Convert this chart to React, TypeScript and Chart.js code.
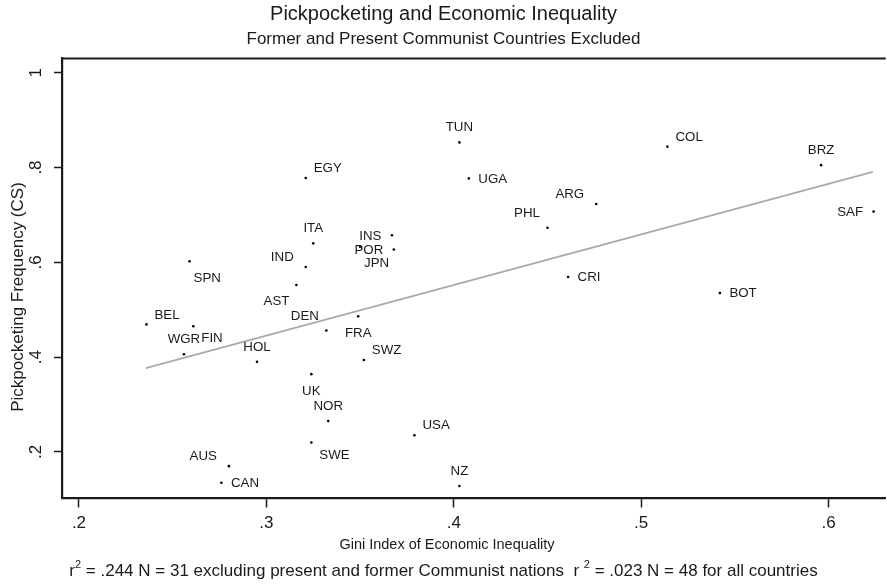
import { useEffect, useRef } from 'react';
import { Chart, registerables } from 'chart.js';

Chart.register(...registerables);

// Country codes, Gini index and pickpocketing frequency (former and present
// Communist countries left out).
const countries = [
  'EGY', 'ITA', 'SPN', 'IND', 'AST', 'BEL', 'FIN', 'WGR', 'HOL', 'DEN', 'FRA',
  'SWZ', 'UK', 'NOR', 'SWE', 'USA', 'NZ', 'AUS', 'CAN', 'TUN', 'UGA', 'ARG',
  'PHL', 'INS', 'POR', 'JPN', 'COL', 'BRZ', 'SAF', 'CRI', 'BOT',
];
const gini = [
  0.321, 0.325, 0.259, 0.321, 0.316, 0.236, 0.261, 0.256, 0.295, 0.332, 0.349,
  0.352, 0.324, 0.333, 0.324, 0.379, 0.403, 0.280, 0.276, 0.403, 0.408, 0.476,
  0.450, 0.367, 0.368, 0.350, 0.514, 0.596, 0.624, 0.461, 0.542,
];
const pickpocketing = [
  0.778, 0.640, 0.602, 0.590, 0.552, 0.469, 0.465, 0.406, 0.390, 0.456, 0.486,
  0.394, 0.364, 0.265, 0.220, 0.235, 0.128, 0.170, 0.135, 0.853, 0.777, 0.723,
  0.673, 0.657, 0.627, 0.633, 0.844, 0.805, 0.707, 0.569, 0.535,
];
// Marker-label clock position for each country.
const labelClock = [
  2, 12, 5, 10, 7, 2, 4, 12, 12, 11, 6,
  2, 6, 12, 4, 2, 12, 10, 3, 12, 3, 10,
  11, 9, 9, 5, 2, 12, 9, 3, 3,
];

// Fitted regression line end points.
const fitGini = [0.2357, 0.6236];
const fitPickpocketing = [0.3766, 0.7907];

const xTicks = [0.2, 0.3, 0.4, 0.5, 0.6];
const yTicks = [0.2, 0.4, 0.6, 0.8, 1];

const titleText = 'Pickpocketing and Economic Inequality';
const subtitleText = 'Former and Present Communist Countries Excluded';
const xTitle = 'Gini Index of Economic Inequality';
const yTitle = 'Pickpocketing Frequency (CS)';
const notePre = 'r';
const noteMid = ' = .244 N = 31 excluding present and former Communist nations  r ';
const notePost = ' = .023 N = 48 for all countries';

const FONT = '"Liberation Sans", Arial, Helvetica, sans-serif';
const INK = '#1a1a1a';

const CLOCK: Record<number, [CanvasTextAlign, number, number]> = {
  12: ['center', 0, -15],
  2: ['left', 8, -9.5],
  3: ['left', 9.5, 0.5],
  4: ['left', 8, 12.5],
  5: ['left', 4, 16.5],
  6: ['center', 0, 17],
  7: ['right', -7, 16],
  9: ['right', -10.5, 1],
  10: ['right', -12, -10],
  11: ['right', -7.5, -14],
};

const fmtTick = (v: number) => (v >= 1 ? String(v) : v.toFixed(1).replace(/^0/, ''));

const decorations = {
  id: 'decorations',
  afterDatasetsDraw(chart: any) {
    const { ctx, chartArea } = chart;
    ctx.save();
    // top frame line
    ctx.strokeStyle = INK;
    ctx.lineWidth = 2.2;
    ctx.beginPath();
    ctx.moveTo(chartArea.left - 1, chartArea.top);
    ctx.lineTo(chartArea.right, chartArea.top);
    ctx.stroke();

    // country labels
    ctx.font = `13.3px ${FONT}`;
    ctx.fillStyle = INK;
    ctx.textBaseline = 'middle';
    const meta = chart.getDatasetMeta(0);
    meta.data.forEach((pt: any, i: number) => {
      const [align, dx, dy] = CLOCK[labelClock[i]];
      ctx.textAlign = align;
      ctx.fillText(countries[i], pt.x + dx, pt.y + dy);
    });
    ctx.restore();
  },
  afterDraw(chart: any) {
    const { ctx, scales } = chart;
    ctx.save();
    ctx.fillStyle = INK;
    ctx.textBaseline = 'middle';
    ctx.textAlign = 'center';

    // rotated y tick labels
    ctx.font = `17px ${FONT}`;
    yTicks.forEach((v) => {
      const py = scales.y.getPixelForValue(v);
      ctx.save();
      ctx.translate(36.5, py);
      ctx.rotate(-Math.PI / 2);
      ctx.fillText(fmtTick(v), 0, 0);
      ctx.restore();
    });

    // y axis title
    ctx.save();
    ctx.translate(18.5, 297);
    ctx.rotate(-Math.PI / 2);
    ctx.font = `17px ${FONT}`;
    ctx.fillText(yTitle, 0, 0);
    ctx.restore();

    // x axis title
    ctx.font = `14.5px ${FONT}`;
    ctx.fillText(xTitle, 447, 545);

    // note with superscripts
    const big = `17px ${FONT}`;
    const small = `11px ${FONT}`;
    ctx.font = big;
    const wPre = ctx.measureText(notePre).width;
    const wMid = ctx.measureText(noteMid).width;
    const wPost = ctx.measureText(notePost).width;
    ctx.font = small;
    const wSup = ctx.measureText('2').width;
    const total = wPre + wSup + wMid + wSup + wPost;
    let x = 443.5 - total / 2;
    const y = 571;
    ctx.textAlign = 'left';
    ctx.font = big;
    ctx.fillText(notePre, x, y);
    x += wPre;
    ctx.font = small;
    ctx.fillText('2', x, y - 6);
    x += wSup;
    ctx.font = big;
    ctx.fillText(noteMid, x, y);
    x += wMid;
    ctx.font = small;
    ctx.fillText('2', x, y - 6);
    x += wSup;
    ctx.font = big;
    ctx.fillText(notePost, x, y);
    ctx.restore();
  },
};

export default function App() {
  const ref = useRef<HTMLCanvasElement>(null);

  useEffect(() => {
    document.body.style.margin = '0';
    const canvas = ref.current;
    if (!canvas) return;

    const points = gini.map((g, i) => ({ x: g, y: pickpocketing[i] }));
    const fit = fitGini.map((g, i) => ({ x: g, y: fitPickpocketing[i] }));

    const chart = new Chart(canvas, {
      type: 'scatter',
      data: {
        datasets: [
          {
            data: points,
            pointRadius: 1.3,
            pointHoverRadius: 1.3,
            pointBackgroundColor: '#000',
            pointBorderWidth: 0,
            showLine: false,
            order: 0,
          },
          {
            data: fit,
            showLine: true,
            borderColor: '#a9a9a9',
            borderWidth: 1.8,
            pointRadius: 0,
            order: 1,
          },
        ],
      },
      options: {
        animation: false,
        responsive: false,
        devicePixelRatio: 1,
        layout: { padding: 0 },
        plugins: {
          legend: { display: false },
          tooltip: { enabled: false },
          title: {
            display: true,
            text: titleText,
            color: INK,
            font: { family: FONT, size: 20, weight: 'normal', lineHeight: 1.2 },
            padding: { top: 2, bottom: 0 },
          },
          subtitle: {
            display: true,
            text: subtitleText,
            color: INK,
            font: { family: FONT, size: 17, weight: 'normal', lineHeight: 1.2 },
            padding: { top: 2.8, bottom: 9.3 },
          },
        },
        scales: {
          x: {
            type: 'linear',
            min: 0.19094,
            max: 0.63047,
            afterBuildTicks: (s: any) => {
              s.ticks = xTicks.map((v) => ({ value: v }));
            },
            afterFit: (s: any) => {
              s.height = 88.5;
            },
            ticks: {
              callback: (v: any) => fmtTick(Number(v)),
              color: INK,
              font: { family: FONT, size: 17 },
              padding: 6,
              maxRotation: 0,
              autoSkip: false,
            },
            grid: {
              drawOnChartArea: false,
              drawTicks: true,
              tickLength: 9,
              tickWidth: 1.5,
              tickColor: INK,
              color: INK,
            },
            border: { display: true, color: INK, width: 2.2 },
          },
          y: {
            type: 'linear',
            min: 0.1017,
            max: 1.03,
            afterBuildTicks: (s: any) => {
              s.ticks = yTicks.map((v) => ({ value: v }));
            },
            afterFit: (s: any) => {
              s.width = 62;
            },
            ticks: { display: false },
            grid: {
              drawOnChartArea: false,
              drawTicks: true,
              tickLength: 8,
              tickWidth: 1.5,
              tickColor: INK,
              color: INK,
            },
            border: { display: true, color: INK, width: 2.2 },
          },
        },
      },
      plugins: [decorations],
    });

    return () => chart.destroy();
  }, []);

  return (
    <canvas
      ref={ref}
      width={887}
      height={587}
      style={{ display: 'block', width: 887, height: 587 }}
    />
  );
}
